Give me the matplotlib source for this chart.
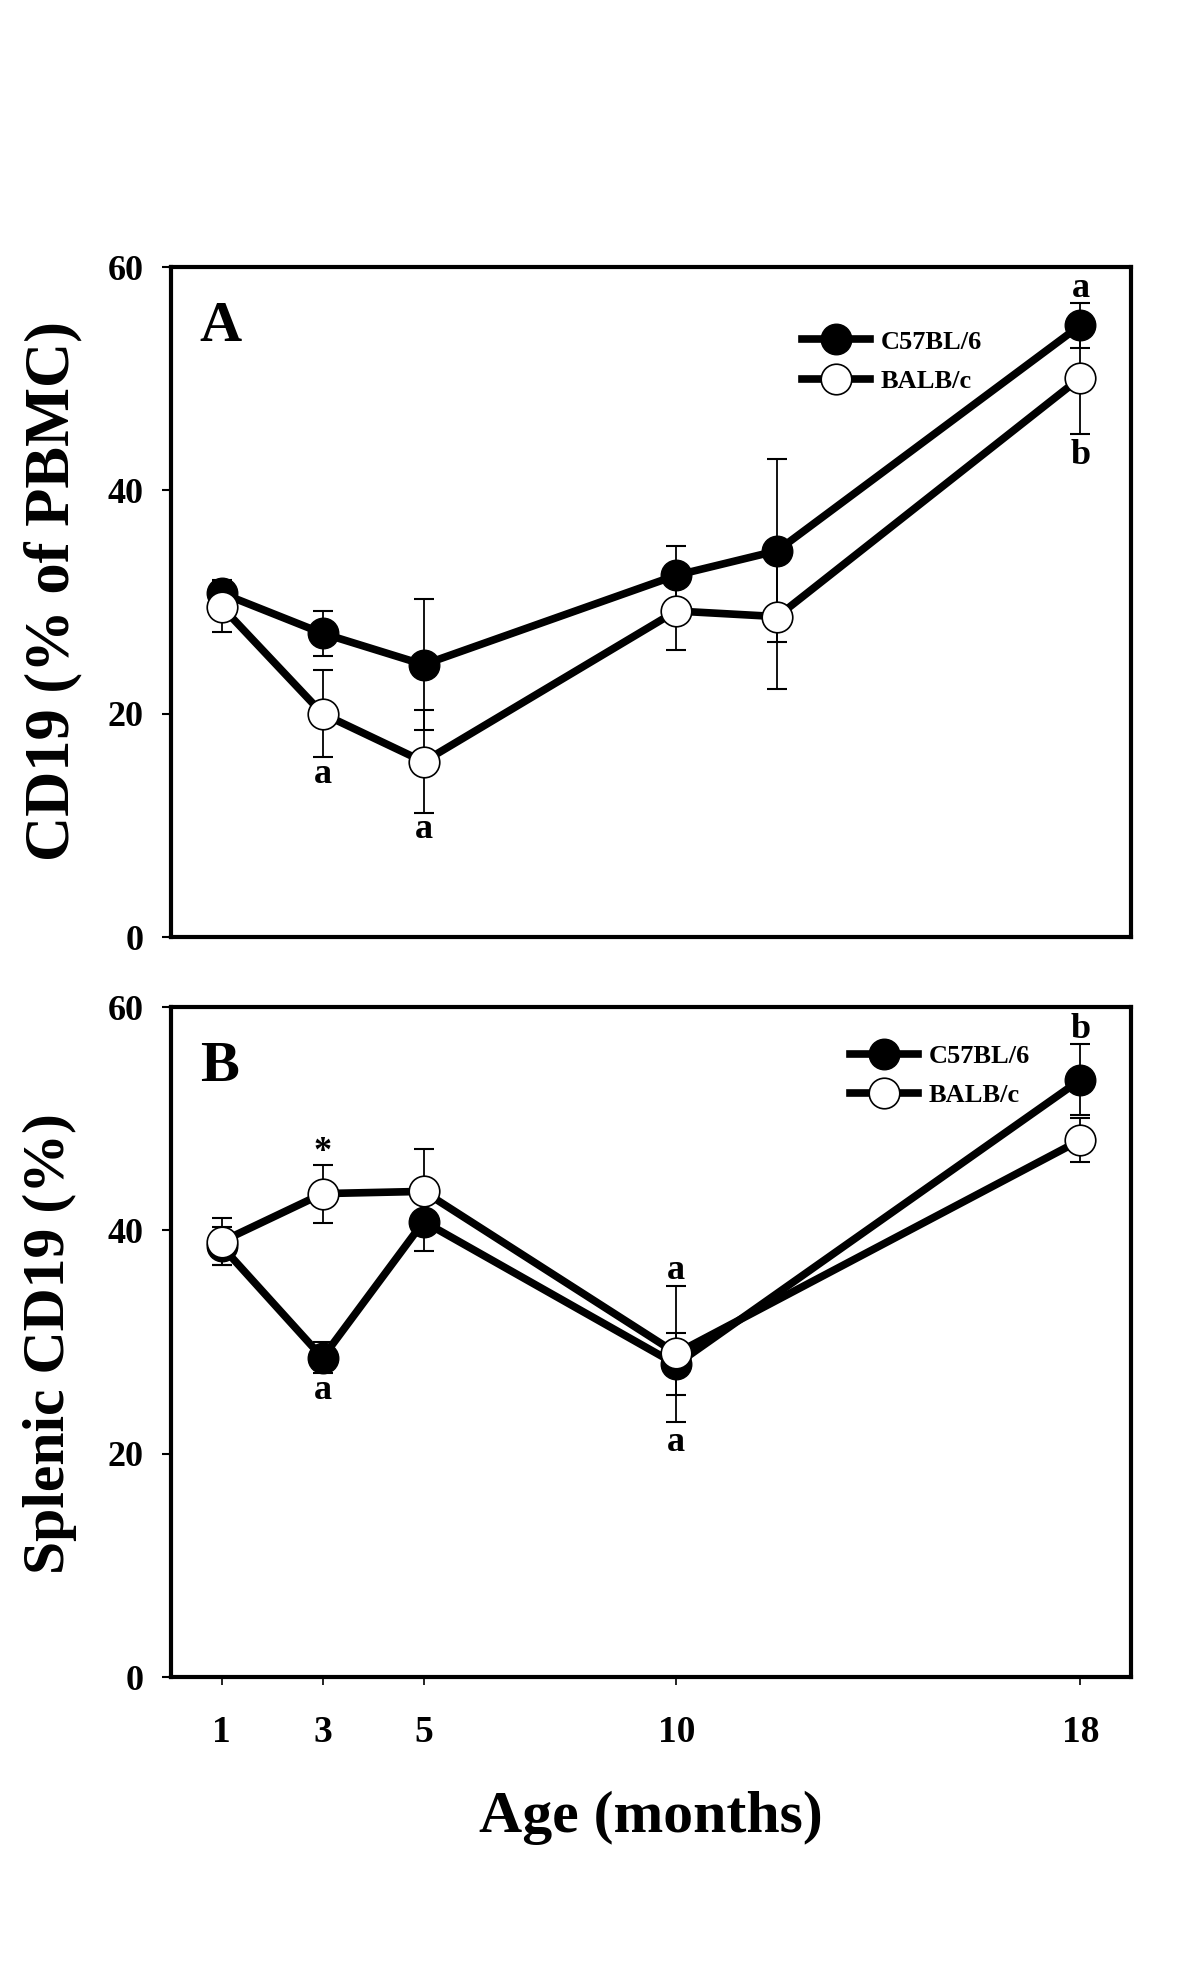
import matplotlib
matplotlib.use("Agg")
import matplotlib.pyplot as plt

plt.rcParams['font.family'] = ['Liberation Serif', 'DejaVu Serif']
plt.rcParams['font.weight'] = 'bold'

# Panel A: CD19 (% of PBMC)
months_a = [1, 3, 5, 10, 12, 18]
c57_a = [30.8, 27.2, 24.4, 32.4, 34.6, 54.8]
c57_a_err = [1.2, 2.0, 5.9, 2.6, 8.2, 2.0]
balb_a = [29.6, 20.0, 15.7, 29.2, 28.7, 50.1]
balb_a_err = [2.3, 3.9, 4.6, 3.5, 6.5, 5.0]

# Panel B: splenic CD19 (%)  (error bars as read: lower, upper)
months_b = [1, 3, 5, 10, 18]
c57_b = [38.6, 28.6, 40.8, 28.0, 53.5]
c57_b_err = [[1.7, 1.4, 2.6, 5.2, 3.2], [1.7, 1.4, 2.6, 7.0, 3.2]]
balb_b = [39.0, 43.3, 43.5, 29.0, 48.1]
balb_b_err = [[2.1, 2.6, 3.8, 3.7, 2.0], [2.1, 2.6, 3.8, 1.8, 2.0]]

xticks = [1, 3, 5, 10, 18]
yticks = [0, 20, 40, 60]

# significance letters: (x, y, text)
notes_a = [(18, 58.1, 'a'), (18, 43.1, 'b'), (3, 14.6, 'a'), (5, 9.6, 'a')]
notes_b = [(3, 47.0, '*'), (3, 25.7, 'a'), (10, 36.4, 'a'), (10, 21.0, 'a'), (18, 58.0, 'b')]

fig = plt.figure(figsize=(12, 19.76), dpi=100)
ax_a = fig.add_axes([0.1425, 0.5258, 0.8, 0.339])
ax_b = fig.add_axes([0.1425, 0.1513, 0.8, 0.339])


def draw(ax, x, c57, c57_err, balb, balb_err, notes, letter, legend_anchor):
    ekw = dict(fmt='none', ecolor='black', elinewidth=1.3, capsize=7, capthick=1.5)
    ax.errorbar(x, c57, yerr=c57_err, zorder=2, **ekw)
    h1, = ax.plot(x, c57, '-o', color='black', lw=5.5, ms=22, mfc='black',
                  mec='black', mew=1.0, zorder=3, label='C57BL/6')
    ax.errorbar(x, balb, yerr=balb_err, zorder=4, **ekw)
    h2, = ax.plot(x, balb, '-o', color='black', lw=5.5, ms=22, mfc='white',
                  mec='black', mew=1.2, zorder=5, label='BALB/c')
    for nx, ny, t in notes:
        ax.text(nx, ny, t, ha='center', va='center', fontsize=26, fontweight='bold', zorder=6)
    ax.set_xlim(0, 19)
    ax.set_ylim(0, 60)
    ax.set_yticks(yticks)
    ax.tick_params(axis='y', direction='out', length=6.5, width=1.5, pad=13, labelsize=26)
    for s in ax.spines.values():
        s.set_linewidth(3)
    ax.text(0.03, 0.89, letter, transform=ax.transAxes, fontsize=42, fontweight='bold',
            ha='left', va='baseline')
    ax.legend(handles=[h1, h2], loc='upper left', bbox_to_anchor=legend_anchor,
              frameon=False, fontsize=19, handlelength=2.6, handletextpad=0.4,
              labelspacing=0.6, borderpad=0, borderaxespad=0, numpoints=1)


draw(ax_a, months_a, c57_a, c57_a_err, balb_a, balb_a_err, notes_a, 'A', (0.657, 0.906))
draw(ax_b, months_b, c57_b, c57_b_err, balb_b, balb_b_err, notes_b, 'B', (0.707, 0.944))

ax_a.set_xticks([])
ax_b.set_xticks(xticks)
ax_b.tick_params(axis='x', direction='out', length=6, width=1.2, pad=21, labelsize=27)

fig.text(53 / 1200, 1 - 591 / 1976, 'CD19 (% of PBMC)', rotation=90, ha='center',
         va='center', fontsize=45, fontweight='bold')
fig.text(50 / 1200, 1 - 1344 / 1976, 'Splenic CD19 (%)', rotation=90, ha='center',
         va='center', fontsize=43, fontweight='bold')
fig.text(651 / 1200, 1 - 1818 / 1976, 'Age (months)', ha='center', va='center',
         fontsize=43, fontweight='bold')

fig.savefig('out.png', dpi=100, facecolor='white')
